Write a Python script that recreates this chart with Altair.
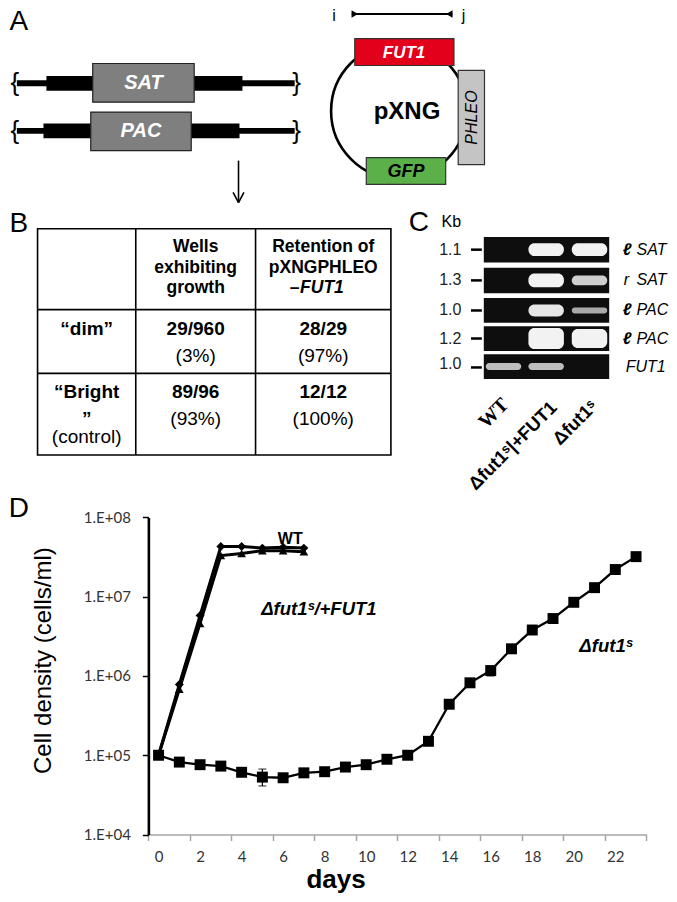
import altair as alt
import pandas as pd

# ======================= DATA =======================
# Panel D: growth curves (cells/ml)
wt_days = [0, 1, 2, 3, 4, 5, 6, 7]
wt_density = [1.0e5, 7.8e5, 5.8e6, 4.3e7, 4.3e7, 4.1e7, 4.2e7, 4.1e7]
comp_days = [0, 1, 2, 3, 4, 5, 6, 7]
comp_density = [1.0e5, 6.8e5, 4.6e6, 3.3e7, 3.5e7, 3.8e7, 3.8e7, 3.7e7]
ko_days = [0, 1, 2, 3, 4, 5, 6, 7, 8, 9, 10, 11, 12, 13, 14, 15, 16, 17, 18, 19, 20, 21, 22, 23]
ko_density = [1.0e5, 8.2e4, 7.6e4, 7.3e4, 6.1e4, 5.3e4, 5.2e4, 6.0e4, 6.2e4, 7.1e4, 7.6e4, 8.9e4,
              1.0e5, 1.5e5, 4.4e5, 8.2e5, 1.17e6, 2.2e6, 3.8e6, 5.3e6, 8.5e6, 1.3e7, 2.2e7, 3.2e7]
err_days = [5, 16]
err_low = [4.1e4, 1.0e6]
err_high = [6.7e4, 1.3e6]
x_tick_bounds = [-0.5, 1.5, 3.5, 5.5, 7.5, 9.5, 11.5, 13.5, 15.5, 17.5, 19.5, 21.5, 23.5]
x_label_days = [0, 2, 4, 6, 8, 10, 12, 14, 16, 18, 20, 22]
y_ticks = [1e4, 1e5, 1e6, 1e7, 1e8]
series_labels = ["WT", "\u0394fut1\u02e2/+FUT1", "\u0394fut1\u02e2"]

# Panel B: table
col_headers = [["Wells", "exhibiting", "growth"], ["Retention of", "pXNGPHLEO", "\u2013", "FUT1"]]
row_labels = [["\u201cdim\u201d"], ["\u201cBright", "\u201d", "(control)"]]
wells_growth = ["29/960", "89/96"]
wells_pct = ["(3%)", "(93%)"]
retention = ["28/29", "12/12"]
retention_pct = ["(97%)", "(100%)"]

# Panel C: gel
gel_sizes = ["1.1", "1.3", "1.0", "1.2", "1.0"]
gel_prefix = ["\u2113", "r", "\u2113", "\u2113", ""]
gel_gene = ["SAT", "SAT", "PAC", "PAC", "FUT1"]
gel_lanes = ["WT", "\u0394fut1\u02e2|+FUT1", "\u0394fut1\u02e2"]
band_intensity = [[0, 1.0, 1.0], [0, 1.0, 0.85], [0, 0.95, 0.7], [0, 1.0, 1.0], [0.78, 0.78, 0]]
band_thickness = [[0, 13, 13], [0, 14, 10], [0, 12, 6], [0, 21, 19], [0, 0, 0]]
band_thickness[4] = [7, 7, 0]

# ======================= LAYOUT =======================
W, H = 661, 886
RX0, RX1 = 3, 674      # reference x-range drawn into the chart width
RY0, RY1 = 4, 898      # reference y-range drawn into the chart height
CX = alt.Scale(domain=[RX0, RX1], range=[0, W], nice=False, zero=False)
CY = alt.Scale(domain=[RY0, RY1], range=[0, H], nice=False, zero=False)
FONT = "Liberation Sans"


def X(r):
    return (r - RX0) * W / (RX1 - RX0)


def Y(r):
    return (r - RY0) * H / (RY1 - RY0)


def txt(items, **kw):
    df = pd.DataFrame(items, columns=["x", "y", "t"])
    base = dict(font=FONT, color="black", align="center", baseline="middle")
    base.update(kw)
    return alt.Chart(df).mark_text(**base).encode(
        x=alt.X("x:Q", scale=CX, axis=None),
        y=alt.Y("y:Q", scale=CY, axis=None),
        text="t:N",
    )


def rects(items, **kw):
    df = pd.DataFrame(items, columns=["x", "x2", "y", "y2"])
    return alt.Chart(df).mark_rect(**kw).encode(
        x=alt.X("x:Q", scale=CX, axis=None), x2="x2:Q",
        y=alt.Y("y:Q", scale=CY, axis=None), y2="y2:Q",
    )


def crects(items, **kw):
    df = pd.DataFrame(items, columns=["x", "x2", "y", "y2", "c"])
    return alt.Chart(df).mark_rect(**kw).encode(
        x=alt.X("x:Q", scale=CX, axis=None), x2="x2:Q",
        y=alt.Y("y:Q", scale=CY, axis=None), y2="y2:Q",
        color=alt.Color("c:N", scale=None),
    )


def segs(items, **kw):
    df = pd.DataFrame(items, columns=["x", "y", "x2", "y2"])
    return alt.Chart(df).mark_rule(**kw).encode(
        x=alt.X("x:Q", scale=CX, axis=None), x2="x2:Q",
        y=alt.Y("y:Q", scale=CY, axis=None), y2="y2:Q",
    )


def pts(items, **kw):
    df = pd.DataFrame(items, columns=["x", "y"])
    return alt.Chart(df).mark_point(**kw).encode(
        x=alt.X("x:Q", scale=CX, axis=None),
        y=alt.Y("y:Q", scale=CY, axis=None),
    )


layers = []

# ---------- panel letters ----------
layers.append(txt([[14, 26, "A"], [14, 230, "B"], [420, 229, "C"], [14, 518, "D"]], fontSize=28,
                  baseline="alphabetic"))
layers.append(txt([[453, 225, "Kb"]], fontSize=16, baseline="alphabetic"))

# ---------- panel A left: constructs ----------
layers.append(rects([[12, 294, 77, 83], [42, 241, 72.5, 87.5],
                     [12, 294, 125, 131], [39, 238, 120.5, 135.5]], fill="black"))
layers.append(rects([[89, 192, 60, 99], [87, 189, 109, 148]],
                    fill="#7f7f7f", stroke="#222222", strokeWidth=1.2))
layers.append(txt([[140.5, 80, "SAT"], [138, 128.5, "PAC"]], fontSize=20, fontWeight="bold",
                  fontStyle="italic", color="white"))
layers.append(txt([[10, 80, "{"], [10, 128, "{"]], fontSize=26))
layers.append(txt([[296, 80, "}"], [296, 128, "}"]], fontSize=26))
# arrow
layers.append(segs([[237, 158, 237, 200], [231.5, 190, 237, 200.5], [242.5, 190, 237, 200.5]],
                   color="black", strokeWidth=1.6))

# ---------- panel A right: plasmid ----------
layers.append(pts([[400, 108]], shape="circle", filled=False, size=18496, color="black",
                  strokeWidth=2.6, opacity=1))
layers.append(rects([[355, 455.7, 35, 62]], fill="#e2001a", stroke="#333333", strokeWidth=1.2))
layers.append(rects([[366.7, 447.3, 155, 182]], fill="#5cb04a", stroke="#333333", strokeWidth=1.2))
layers.append(rects([[460, 486.7, 67, 162]], fill="#c4c4c4", stroke="#333333", strokeWidth=1.2))
layers.append(txt([[405, 49, "FUT1"]], fontSize=17, fontWeight="bold", fontStyle="italic", color="white"))
layers.append(txt([[407, 169, "GFP"]], fontSize=18, fontWeight="bold", fontStyle="italic"))
layers.append(txt([[474, 114.5, "PHLEO"]], fontSize=16, fontStyle="italic", angle=270))
layers.append(txt([[408, 109, "pXNG"]], fontSize=24, fontWeight="bold"))
# primers
layers.append(segs([[352, 10, 454, 10]], color="black", strokeWidth=2))
layers.append(pts([[355, 10]], shape="triangle-right", filled=True, size=55, color="black", opacity=1))
layers.append(pts([[451, 10]], shape="triangle-left", filled=True, size=55, color="black", opacity=1))
layers.append(txt([[334, 17, "i"], [465.5, 17, "j"]], fontSize=16, baseline="alphabetic"))

# ---------- panel B: table ----------
tx0, tx1, tx2, tx3 = 33, 132.7, 254.3, 391.7
ty0, ty1, ty2, ty3 = 226.7, 308.3, 372.7, 455
layers.append(rects([[tx0, tx3, ty0, ty3]], fillOpacity=0, stroke="black", strokeWidth=1.6))
layers.append(segs([[tx1, ty0, tx1, ty3], [tx2, ty0, tx2, ty3],
                    [tx0, ty1, tx3, ty1], [tx0, ty2, tx3, ty2]], color="black", strokeWidth=1.6))
c1, c2, c3 = (tx0 + tx1) / 2, (tx1 + tx2) / 2, (tx2 + tx3) / 2
hy = [245, 266, 287]
layers.append(txt([[c2, hy[i], col_headers[0][i]] for i in range(3)] +
                  [[c3, hy[i], col_headers[1][i]] for i in range(2)],
                  fontSize=17.5, fontWeight="bold"))
layers.append(txt([[289, hy[2], col_headers[1][2]]], fontSize=17.5, fontWeight="bold", align="left"))
layers.append(txt([[299.5, hy[2], col_headers[1][3]]], fontSize=17.5, fontWeight="bold",
                  fontStyle="italic", align="left"))
r1, r1b = 327.5, 355
r2, r2b = 391.7, 418.3
layers.append(txt([[c1, r1, row_labels[0][0]], [c1, r2, row_labels[1][0]],
                   [c2, r1, wells_growth[0]], [c2, r2, wells_growth[1]],
                   [c3, r1, retention[0]], [c3, r2, retention[1]]],
                  fontSize=19, fontWeight="bold"))
layers.append(txt([[c1, 425, row_labels[1][1]]], fontSize=19, fontWeight="bold", baseline="alphabetic"))
layers.append(txt([[c1, 437, row_labels[1][2]],
                   [c2, r1b, wells_pct[0]], [c2, r2b, wells_pct[1]],
                   [c3, r1b, retention_pct[0]], [c3, r2b, retention_pct[1]]], fontSize=19))

# ---------- panel C: gel ----------
strip_tb = [[235, 260.7], [266, 291.7], [296.7, 321.7], [325, 350], [353.3, 378.3]]
strip_c = [(a + b) / 2 for a, b in strip_tb]
lane_x = [506, 549.3, 593.3]
layers.append(rects([[486, 613.3, a, b] for a, b in strip_tb], fill="#0e0e0e"))
core = []
for si in range(5):
    for li in range(3):
        inten = band_intensity[si][li]
        if inten <= 0:
            continue
        g = int(round(255 * inten))
        col = "#%02x%02x%02x" % (g, g, g)
        h = band_thickness[si][li]
        cx_, cy_ = lane_x[li], strip_c[si]
        core.append([cx_ - 18, cx_ + 18, cy_ - h / 2, cy_ + h / 2, col])
layers.append(crects(core, cornerRadius=6, opacity=0.95))
layers.append(segs([[473, strip_c[i], 484, strip_c[i]] for i in range(4)] +
                   [[473, 366.7, 484, 366.7]], color="black", strokeWidth=2.5))
layers.append(txt([[452, strip_c[i], gel_sizes[i]] for i in range(4)] + [[452, 363, gel_sizes[4]]],
                  fontSize=16, color="#222222"))
layers.append(txt([[627, strip_c[i], gel_prefix[i]] for i in range(5) if gel_prefix[i] == "\u2113"],
                  fontSize=17, fontWeight="bold", fontStyle="italic", align="left"))
layers.append(txt([[628, strip_c[i], gel_prefix[i]] for i in range(5) if gel_prefix[i] == "r"],
                  fontSize=16, fontStyle="italic", align="left"))
layers.append(txt([[641, strip_c[i], gel_gene[i]] for i in range(4)] + [[630, strip_c[4], gel_gene[4]]],
                  fontSize=16, fontStyle="italic", align="left"))
layers.append(txt([[508, 401, gel_lanes[0]]], font="Liberation Serif", fontSize=20, fontWeight="bold",
                  angle=315, align="right"))
layers.append(txt([[557, 404, gel_lanes[1]], [598, 403, gel_lanes[2]]], fontSize=18.5, fontWeight="bold",
                  angle=315, align="right"))

# ---------- panel D annotations ----------
layers.append(txt([[289.5, 540, series_labels[0]]], fontSize=16, fontWeight="bold"))
layers.append(txt([[260, 610, series_labels[1]], [583, 648, series_labels[2]]], fontSize=18.5,
                  fontWeight="bold", fontStyle="italic", align="left"))

# ---------- panel D chart (own scales) ----------
XD = alt.Scale(domain=[-0.5, 23.5], range=[X(145.3), X(651.1)], nice=False, zero=False)
YD = alt.Scale(type="log", domain=[1e4, 1e8], range=[Y(838), Y(518)], nice=False)
AX_Y = X(145.5)
AX_X = Y(838)

y_axis = alt.Axis(orient="left", offset=-AX_Y, values=y_ticks, grid=False,
                  labelExpr="'1.E+0' + round(log(datum.value) / LN10)",
                  domainColor="black", domainWidth=2.6, tickColor="black", tickWidth=1.5,
                  tickSize=6, labelPadding=12, labelFont="Lato", labelFontSize=15, labelColor="#333333",
                  title="Cell density (cells/ml)", titleFont=FONT, titleFontSize=24,
                  titleFontWeight="normal", titleColor="black", titleAngle=270,
                  titleX=X(39) - AX_Y, titleY=Y(662), titleAlign="center", titleBaseline="middle")
x_tick_axis = alt.Axis(orient="bottom", offset=-(H - AX_X), values=x_tick_bounds, labels=False,
                       grid=False, domainColor="#a6a6a6", domainWidth=1.5, tickColor="#a6a6a6",
                       tickWidth=1.5, tickSize=6, title="")
x_label_axis = alt.Axis(orient="bottom", offset=-(H - AX_X), values=x_label_days, domain=False,
                        ticks=False, tickSize=0, grid=False, labelFont="Lato", labelFontSize=15,
                        labelColor="#333333", labelPadding=15, title="days", titleFont=FONT,
                        titleFontSize=26, titleFontWeight="bold", titleColor="black",
                        titleX=X(335.5), titleY=Y(891) - AX_X, titleAlign="center",
                        titleBaseline="alphabetic")

wt_df = pd.DataFrame({"day": wt_days, "density": wt_density})
comp_df = pd.DataFrame({"day": comp_days, "density": comp_density})
ko_df = pd.DataFrame({"day": ko_days, "density": ko_density})
err_df = pd.DataFrame({"day": err_days, "lo": err_low, "hi": err_high})


def dx(axis=None):
    if axis is None:
        return alt.X("day:Q", scale=XD, axis=None)
    return alt.X("day:Q", scale=XD, axis=axis)


def dy(field="density", axis=None):
    if axis is None:
        return alt.Y(f"{field}:Q", scale=YD, axis=None)
    return alt.Y(f"{field}:Q", scale=YD, axis=axis)


layers.append(alt.Chart(err_df).mark_rule(color="black", strokeWidth=1.2).encode(
    x=dx(), y=dy("lo"), y2="hi:Q"))
layers.append(alt.Chart(err_df).mark_tick(color="black", orient="horizontal", size=8, thickness=1.2).encode(
    x=dx(), y=dy("lo")))
layers.append(alt.Chart(err_df).mark_tick(color="black", orient="horizontal", size=8, thickness=1.2).encode(
    x=dx(), y=dy("hi")))
layers.append(alt.Chart(comp_df).mark_line(color="black", strokeWidth=3).encode(x=dx(), y=dy()))
layers.append(alt.Chart(wt_df).mark_line(color="black", strokeWidth=3).encode(x=dx(), y=dy()))
layers.append(alt.Chart(comp_df).mark_point(shape="triangle-up", filled=True, size=75, color="black",
                                            opacity=1).encode(x=dx(), y=dy()))
layers.append(alt.Chart(wt_df).mark_point(shape="diamond", filled=True, size=80, color="black",
                                          opacity=1).encode(x=dx(), y=dy()))
layers.append(alt.Chart(ko_df).mark_line(color="black", strokeWidth=2.3).encode(
    x=dx(x_tick_axis), y=dy(axis=y_axis)))
layers.append(alt.Chart(ko_df).mark_point(shape="square", filled=True, size=120, color="black",
                                          opacity=1).encode(x=dx(x_label_axis), y=dy()))

chart = (
    alt.layer(*layers)
    .resolve_scale(x="independent", y="independent", color="independent")
    .resolve_axis(x="independent", y="independent")
    .properties(width=W, height=H, padding=0, autosize=alt.AutoSizeParams(type="none"),
                background="white")
    .configure_view(stroke="transparent")
)

chart.save("out.html", embed_options={"renderer": "svg", "actions": False})
